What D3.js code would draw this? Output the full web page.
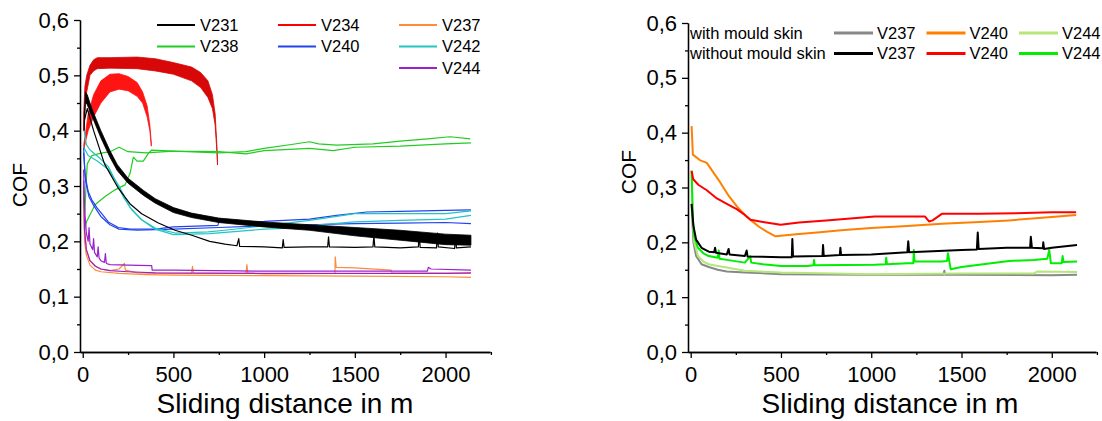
<!DOCTYPE html>
<html>
<head>
<meta charset="utf-8">
<script src="https://cdn.jsdelivr.net/npm/d3@7"></script>
<style>
  body { margin: 0; background: #fff; }
  svg { display: block; font-family: "Liberation Sans", Arial, sans-serif; }
  .tick text { font-size: 22px; fill: #000; }
  .axis path, .axis line { stroke: #000; stroke-width: 1.3; }
  .title { font-size: 28px; }
  .ylab { font-size: 21px; }
  .legend text { font-size: 16.5px; }
</style>
</head>
<body>
<svg id="chart" width="1102" height="421"></svg>
<script>
// ---------- data ----------
const xTicks = [0, 500, 1000, 1500, 2000];
const xMinor = [250, 750, 1250, 1750, 2250];
const yTicks = [0, 0.1, 0.2, 0.3, 0.4, 0.5, 0.6];
const yMinor = [0.05, 0.15, 0.25, 0.35, 0.45, 0.55];

// left panel, noisy bands as [distance, low, high]
const v231aBand = [[8,0.40,0.41],[15,0.452,0.47],[25,0.447,0.465],[50,0.427,0.44],[100,0.387,0.40],[150,0.352,0.364],[190,0.328,0.339],[250,0.305,0.314],[335,0.283,0.292],[400,0.269,0.277],[500,0.252,0.261],[600,0.243,0.251],[750,0.234,0.242],[1000,0.226,0.235],[1250,0.22,0.23],[1500,0.21,0.225],[1750,0.202,0.22],[2000,0.194,0.213],[2140,0.193,0.211]];
const v234aBand = [[5,0.40,0.43],[12,0.45,0.48],[22,0.47,0.50],[40,0.50,0.518],[60,0.508,0.528],[80,0.512,0.532],[150,0.513,0.532],[300,0.512,0.533],[400,0.508,0.53],[500,0.502,0.523],[600,0.49,0.515],[650,0.478,0.505],[690,0.46,0.49],[715,0.44,0.465],[730,0.41,0.43],[740,0.36,0.37],[743,0.338,0.342]];
const v234bBand = [[6,0.365,0.375],[15,0.38,0.395],[30,0.40,0.43],[60,0.425,0.465],[100,0.45,0.49],[150,0.47,0.502],[200,0.475,0.503],[250,0.472,0.498],[300,0.462,0.487],[330,0.45,0.47],[355,0.425,0.445],[370,0.40,0.41],[378,0.372,0.378]];

// left panel, single runs as [distance, COF]
const v231b = [[10,0.42],[25,0.44],[60,0.40],[120,0.34],[196,0.296],[260,0.268],[325,0.25],[417,0.233],[509,0.22],[601,0.211],[700,0.2],[784,0.195],[850,0.192],[860,0.205],[865,0.191],[1000,0.19],[1100,0.188],[1105,0.203],[1110,0.189],[1250,0.19],[1350,0.19],[1355,0.208],[1360,0.19],[1500,0.189],[1600,0.19],[1605,0.21],[1610,0.19],[1750,0.188],[1850,0.19],[1855,0.212],[1860,0.189],[1950,0.188],[1955,0.215],[1960,0.19],[2050,0.187],[2055,0.21],[2060,0.188],[2140,0.19]];
const v238a = [[10,0.22],[20,0.235],[68,0.266],[123,0.281],[178,0.293],[233,0.302],[261,0.323],[279,0.352],[300,0.345],[334,0.345],[360,0.358],[380,0.365],[500,0.363],[750,0.362],[900,0.358],[1000,0.364],[1250,0.368],[1380,0.364],[1500,0.37],[1750,0.372],[2000,0.376],[2140,0.378]];
const v238b = [[12,0.25],[18,0.30],[25,0.34],[50,0.355],[95,0.359],[150,0.362],[200,0.37],[250,0.362],[350,0.36],[500,0.363],[750,0.36],[900,0.362],[1000,0.368],[1150,0.375],[1250,0.38],[1300,0.376],[1400,0.374],[1600,0.376],[1750,0.381],[1900,0.385],[2025,0.389],[2136,0.385]];
const v240a = [[5,0.37],[13,0.32],[30,0.29],[50,0.275],[80,0.26],[105,0.25],[141,0.235],[196,0.225],[261,0.222],[400,0.222],[500,0.226],[745,0.229],[750,0.235],[1000,0.236],[1250,0.24],[1400,0.247],[1565,0.253],[1750,0.254],[2000,0.256],[2140,0.257]];
const v240b = [[5,0.36],[15,0.31],[35,0.28],[60,0.265],[100,0.245],[150,0.23],[200,0.222],[300,0.22],[500,0.222],[750,0.225],[1000,0.228],[1250,0.23],[1500,0.232],[1750,0.233],[2000,0.234],[2140,0.232]];
const v242a = [[8,0.40],[20,0.375],[40,0.365],[95,0.35],[141,0.335],[180,0.31],[224,0.28],[270,0.257],[325,0.239],[399,0.224],[509,0.215],[692,0.217],[784,0.22],[1000,0.228],[1250,0.238],[1400,0.245],[1500,0.25],[1750,0.25],[2000,0.25],[2140,0.255]];
const v242b = [[5,0.37],[30,0.355],[80,0.345],[141,0.33],[200,0.30],[260,0.262],[320,0.24],[400,0.222],[500,0.212],[700,0.214],[1000,0.222],[1250,0.225],[1300,0.23],[1500,0.235],[1750,0.238],[2000,0.24],[2140,0.247]];
const v237a = [[5,0.30],[10,0.22],[20,0.185],[40,0.165],[70,0.155],[100,0.15],[150,0.147],[200,0.15],[230,0.16],[235,0.148],[300,0.143],[500,0.142],[600,0.142],[605,0.155],[610,0.142],[900,0.142],[905,0.158],[910,0.143],[1000,0.141],[1390,0.142],[1392,0.172],[1397,0.153],[1500,0.152],[1700,0.148],[1705,0.143],[2140,0.142]];
const v237b = [[5,0.28],[10,0.2],[20,0.175],[40,0.157],[70,0.148],[100,0.145],[200,0.142],[350,0.14],[500,0.139],[1000,0.138],[1500,0.137],[2000,0.136],[2140,0.135]];
const v244a = [[5,0.33],[10,0.26],[20,0.215],[30,0.2],[35,0.225],[40,0.195],[55,0.185],[60,0.205],[65,0.18],[80,0.172],[85,0.19],[90,0.17],[100,0.165],[120,0.162],[125,0.178],[130,0.16],[150,0.158],[250,0.157],[380,0.156],[383,0.148],[500,0.148],[1000,0.146],[1500,0.146],[1900,0.146],[1905,0.153],[1920,0.15],[2140,0.148]];
const v244b = [[5,0.31],[10,0.22],[20,0.185],[40,0.165],[70,0.155],[100,0.15],[150,0.147],[250,0.145],[400,0.143],[1000,0.142],[1500,0.142],[2000,0.142],[2140,0.143]];

// right panel
const skin237 = [[5,0.27],[15,0.2],[30,0.175],[60,0.16],[100,0.155],[150,0.15],[200,0.147],[300,0.145],[500,0.142],[1000,0.141],[1400,0.141],[1405,0.148],[1410,0.141],[1500,0.141],[2000,0.14],[2140,0.141]];
const skin240 = [[5,0.412],[12,0.36],[50,0.35],[89,0.345],[154,0.314],[210,0.285],[257,0.265],[300,0.25],[331,0.241],[380,0.228],[424,0.219],[470,0.211],[498,0.212],[600,0.215],[700,0.218],[833,0.222],[1000,0.226],[1200,0.23],[1391,0.234],[1600,0.237],[1763,0.24],[2000,0.246],[2135,0.25]];
const skin244 = [[5,0.332],[12,0.24],[20,0.2],[40,0.175],[70,0.165],[100,0.16],[150,0.157],[200,0.154],[300,0.148],[500,0.145],[1000,0.142],[1500,0.143],[1900,0.143],[1920,0.147],[2140,0.146]];
const bare237 = [[5,0.27],[15,0.23],[30,0.205],[60,0.19],[100,0.183],[130,0.182],[135,0.19],[140,0.181],[200,0.178],[210,0.188],[215,0.178],[300,0.175],[310,0.185],[315,0.174],[500,0.173],[560,0.173],[563,0.206],[567,0.174],[730,0.175],[733,0.195],[737,0.175],[826,0.177],[829,0.19],[833,0.177],[1000,0.178],[1200,0.182],[1205,0.202],[1210,0.182],[1500,0.186],[1585,0.187],[1590,0.218],[1595,0.188],[1750,0.19],[1880,0.19],[1884,0.21],[1890,0.19],[1950,0.189],[1953,0.2],[1957,0.188],[2000,0.19],[2140,0.195]];
const bare240 = [[5,0.33],[14,0.315],[42,0.305],[89,0.295],[145,0.28],[200,0.27],[257,0.26],[300,0.25],[331,0.241],[400,0.237],[498,0.232],[600,0.236],[750,0.24],[1019,0.247],[1298,0.247],[1320,0.238],[1340,0.24],[1391,0.252],[1600,0.252],[1800,0.253],[2000,0.255],[2135,0.255]];
const bare244 = [[5,0.33],[12,0.24],[20,0.21],[40,0.19],[70,0.18],[100,0.175],[150,0.172],[155,0.185],[160,0.17],[200,0.168],[300,0.163],[330,0.175],[335,0.163],[400,0.16],[500,0.157],[647,0.157],[680,0.158],[683,0.168],[687,0.158],[1019,0.159],[1080,0.16],[1083,0.172],[1087,0.16],[1200,0.162],[1233,0.162],[1236,0.186],[1240,0.165],[1391,0.165],[1420,0.166],[1425,0.18],[1440,0.151],[1500,0.155],[1763,0.166],[1900,0.168],[1975,0.17],[1986,0.186],[1995,0.162],[2055,0.162],[2060,0.175],[2065,0.164],[2140,0.165]];

const leftNames = ["V231", "V234", "V237", "V238", "V240", "V242", "V244"];
const leftColors = ["#000000", "#ff0000", "#ff8c3c", "#22cc22", "#2244ee", "#22c4c4", "#9922cc"];
const rightNames = ["V237", "V240", "V244"];
const rightRows = ["with mould skin", "without mould skin"];
const rightColors = [["#888888", "#ff8000", "#b4e67a"], ["#000000", "#ff0000", "#00ee00"]];

// ---------- drawing ----------
const svg = d3.select("#chart");

function panel(cfg) {
  const x = d3.scaleLinear().domain([-15, 2245]).range(cfg.xr);
  const y = d3.scaleLinear().domain([0, 0.6]).range(cfg.yr);
  const fmt = d => d3.format(".1f")(d).replace(".", ",");

  const g = svg.append("g");

  g.append("g").attr("class", "axis")
    .attr("transform", `translate(0,${cfg.yr[0]})`)
    .call(d3.axisBottom(x).tickValues(xMinor).tickSize(3).tickSizeOuter(0).tickFormat(""));
  g.append("g").attr("class", "axis")
    .attr("transform", `translate(0,${cfg.yr[0]})`)
    .call(d3.axisBottom(x).tickValues(xTicks).tickSize(6).tickSizeOuter(0).tickPadding(8)
      .tickFormat(d3.format("d")));
  g.append("g").attr("class", "axis")
    .attr("transform", `translate(${cfg.xr[0]},0)`)
    .call(d3.axisLeft(y).tickValues(yMinor).tickSize(3).tickSizeOuter(0).tickFormat(""));
  g.append("g").attr("class", "axis")
    .attr("transform", `translate(${cfg.xr[0]},0)`)
    .call(d3.axisLeft(y).tickValues(yTicks).tickSize(6).tickSizeOuter(0).tickPadding(5).tickFormat(fmt));

  const line = d3.line().x(d => x(d[0])).y(d => y(d[1]));
  const area = d3.area().x(d => x(d[0])).y0(d => y(d[1])).y1(d => y(d[2]));

  const band = b => g.append("path").datum(b.data)
    .attr("fill", b.color).attr("stroke", b.color).attr("stroke-width", 0.8)
    .attr("d", area);

  cfg.bands.forEach(band);
  cfg.lines.forEach(s => {
    g.append("path").datum(s.data)
      .attr("fill", "none").attr("stroke", s.color)
      .attr("stroke-width", cfg.lw).attr("stroke-linejoin", "round")
      .attr("d", line);
  });
  cfg.topBands.forEach(band);

  g.append("text").attr("class", "title")
    .attr("x", cfg.titleX).attr("y", 413).attr("text-anchor", "middle")
    .text("Sliding distance in m");
  g.append("text").attr("class", "ylab")
    .attr("transform", `translate(${cfg.cofX},${cfg.cofY}) rotate(-90)`)
    .attr("text-anchor", "middle")
    .text("COF");
}

panel({
  xr: [80, 490], yr: [352, 20], lw: 1.2, titleX: 285, cofX: 27, cofY: 185,
  bands: [
    { data: v234aBand, color: "#d80808" },
    { data: v234bBand, color: "#ff1414" }
  ],
  lines: [
    { data: v238a, color: leftColors[3] },
    { data: v238b, color: leftColors[3] },
    { data: v240a, color: leftColors[4] },
    { data: v240b, color: leftColors[4] },
    { data: v242a, color: leftColors[5] },
    { data: v242b, color: leftColors[5] },
    { data: v231b, color: leftColors[0] },
    { data: v237a, color: leftColors[2] },
    { data: v237b, color: leftColors[2] },
    { data: v244a, color: leftColors[6] },
    { data: v244b, color: leftColors[6] }
  ],
  topBands: [{ data: v231aBand, color: "#000000" }]
});

panel({
  xr: [688, 1096], yr: [352, 23], lw: 2, titleX: 890, cofX: 636, cofY: 172,
  bands: [],
  lines: [
    { data: skin237, color: rightColors[0][0] },
    { data: skin244, color: rightColors[0][2] },
    { data: bare244, color: rightColors[1][2] },
    { data: bare237, color: rightColors[1][0] },
    { data: skin240, color: rightColors[0][1] },
    { data: bare240, color: rightColors[1][1] }
  ],
  topBands: []
});

// left legend
const lg = svg.append("g").attr("class", "legend");
leftNames.forEach((n, i) => {
  const col = i < 6 ? i % 3 : 2, row = Math.floor(i / 3);
  const lx = 157 + col * 121, ly = 25 + row * 21.5;
  lg.append("line").attr("x1", lx).attr("x2", lx + 38).attr("y1", ly).attr("y2", ly)
    .attr("stroke", leftColors[i]).attr("stroke-width", 2);
  lg.append("text").attr("x", lx + 43).attr("y", ly).attr("dy", "0.36em").text(n);
});

// right legend
const rg = svg.append("g").attr("class", "legend");
rightRows.forEach((r, j) => {
  const ly = 33 + j * 20.5;
  rg.append("text").attr("x", 690).attr("y", ly).attr("dy", "0.36em").text(r);
  rightNames.forEach((n, i) => {
    const lx = 834 + i * 92.5;
    rg.append("line").attr("x1", lx).attr("x2", lx + 39).attr("y1", ly).attr("y2", ly)
      .attr("stroke", rightColors[j][i]).attr("stroke-width", 3);
    rg.append("text").attr("x", lx + 43).attr("y", ly).attr("dy", "0.36em").text(n);
  });
});
</script>
</body>
</html>
